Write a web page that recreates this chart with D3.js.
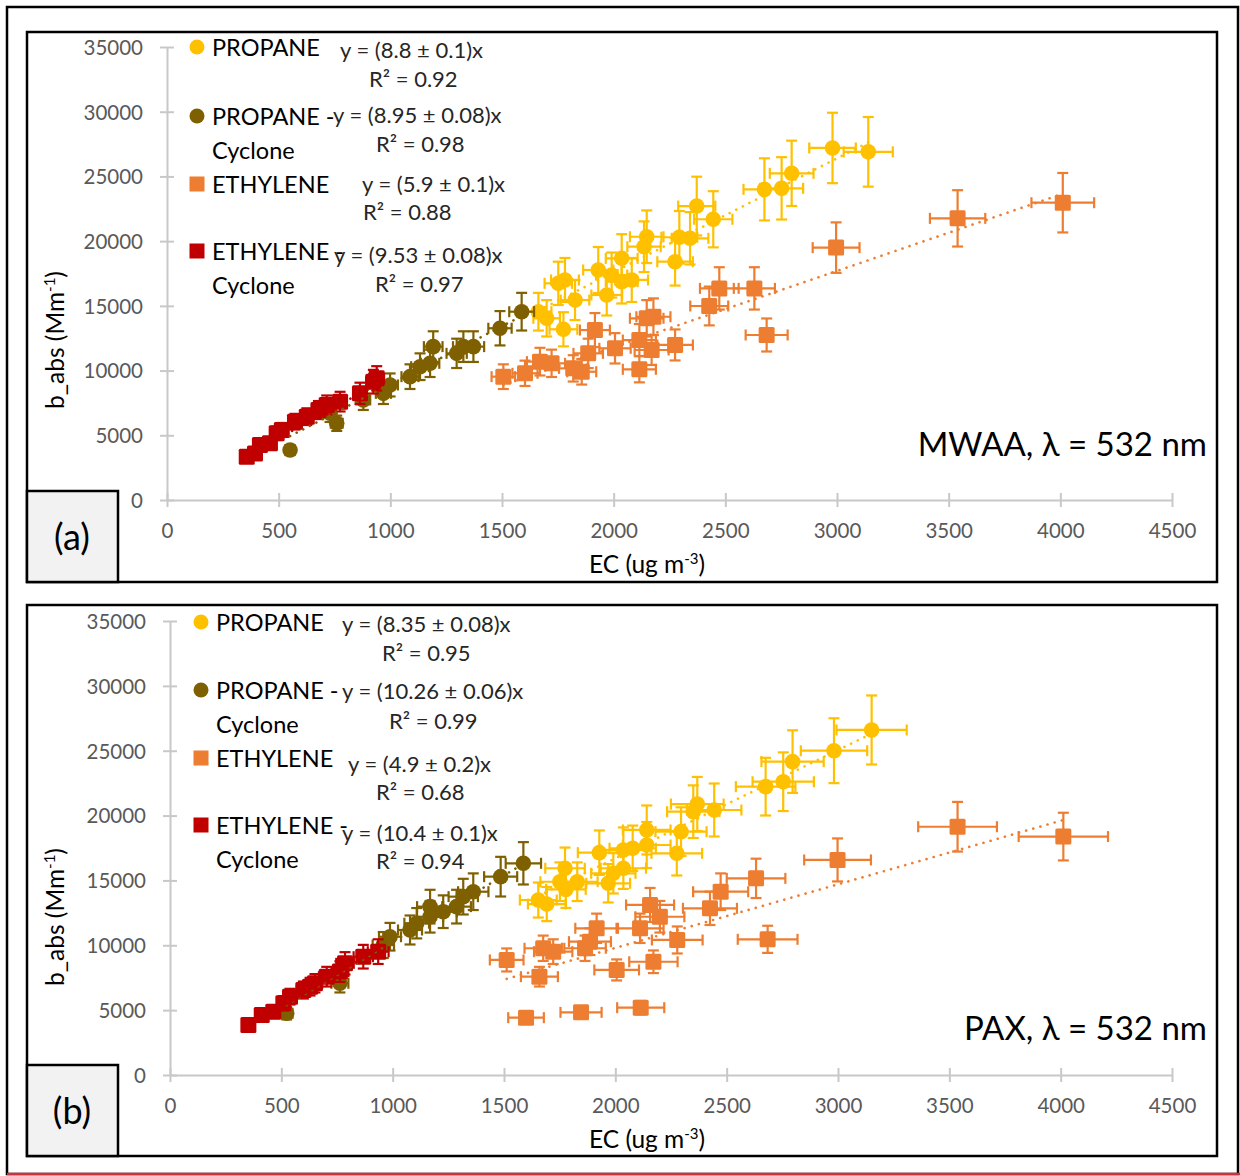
<!DOCTYPE html>
<html>
<head>
<meta charset="utf-8">
<script src="https://cdn.jsdelivr.net/npm/d3@7"></script>
<style>
  body { margin: 0; background: #fff; }
  text { font-family: Lato, "Liberation Sans", sans-serif; }
</style>
</head>
<body>
<svg id="chart_svg" width="1240" height="1176"></svg>
<script>
'use strict';

// ---- data: [EC, b_abs] ----
const seriesNames = ["PROPANE", "PROPANE - Cyclone", "ETHYLENE", "ETHYLENE - Cyclone"];
const xTicks = [0, 500, 1000, 1500, 2000, 2500, 3000, 3500, 4000, 4500];
const yTicks = [0, 5000, 10000, 15000, 20000, 25000, 30000, 35000];

// panel (a) MWAA
const propaneA = [[2980,27200],[3140,26900],[2797,25240],[2752,24080],[2675,24000],[2446,21690],[2372,22710],
  [2342,20220],[2294,20300],[2275,18410],[2148,20340],[2136,19570],[2081,17000],[2036,18670],[2036,16870],
  [1991,17380],[1969,15840],[1931,17770],[1827,15450],[1782,17000],[1752,16740],[1775,13190],[1700,14040],[1663,14550]];
const propaneCycA = [[1588,14550],[1491,13270],[1372,11850],[1327,11850],[1297,11330],[1192,11850],[1178,10560],
  [1133,10300],[1088,9530],[999,8890],[969,8240],[879,7730],[760,5930],[730,6700],[551,3860]];
const ethyleneA = [[4011,22970],[3540,21760],[2996,19500],[2630,16350],[2473,16350],[2428,14990],[2685,12750],
  [2178,14160],[2148,14040],[2275,11980],[2170,11590],[2115,12360],[2115,10100],[2006,11720],[1916,13130],
  [1886,11330],[1857,9910],[1819,10170],[1722,10560],[1670,10690],[1603,9790],[1506,9530]];
const ethyleneCycA = [[357,3350],[394,3600],[416,4250],[461,4380],[491,5150],[514,5410],[573,6050],[626,6440],
  [678,6950],[715,7340],[775,7600],[864,8240],[924,9140],[939,9400]];

// panel (b) PAX
const propaneB = [[3151,26600],[2982,25000],[2796,24160],[2754,22610],[2675,22230],[2444,20430],[2368,20890],
  [2350,20300],[2295,18760],[2276,17090],[2141,18890],[2141,17730],[2078,17480],[2036,17350],[2036,15940],
  [1991,15550],[1968,14780],[1928,17140],[1829,14900],[1774,15940],[1751,14900],[1778,14310],[1692,13180],[1654,13490]];
const propaneCycB = [[1587,16320],[1485,15290],[1362,14130],[1317,13750],[1287,12980],[1227,12590],[1168,12980],
  [1168,12200],[1108,11700],[1078,11180],[988,10660],[958,10020],[763,7070],[524,4760]];
const ethyleneB = [[4012,18380],[3537,19140],[2998,16580],[2632,15160],[2473,14130],[2425,12850],[2684,10460],
  [2156,13110],[2200,12200],[2111,11310],[2278,10410],[2171,8730],[2006,8100],[1916,11310],[1886,10280],
  [1864,9770],[1721,9510],[1676,9770],[1512,8870],[1659,7580],[1599,4420],[1846,4830],[2114,5190]];
const ethyleneCycB = [[352,3850],[412,4630],[464,4880],[509,5530],[539,6040],[599,6550],[629,6810],[651,7070],
  [704,7580],[763,7970],[786,8610],[868,9120],[935,9510]];

// fitted slopes (forced through zero) and labels
const slopesA = [8.8, 8.95, 5.9, 9.53];
const eqA = ["y = (8.8 ± 0.1)x", "y = (8.95 ± 0.08)x", "y = (5.9 ± 0.1)x", "y = (9.53 ± 0.08)x"];
const r2A = ["R² = 0.92", "R² = 0.98", "R² = 0.88", "R² = 0.97"];
const slopesB = [8.35, 10.26, 4.9, 10.4];
const eqB = ["y = (8.35 ± 0.08)x", "y = (10.26 ± 0.06)x", "y = (4.9 ± 0.2)x", "y = (10.4 ± 0.1)x"];
const r2B = ["R² = 0.95", "R² = 0.99", "R² = 0.68", "R² = 0.94"];

// relative error bars
const errA = {x: 0.035, y: 0.10};
const errB = {x: 0.05, y: 0.10};

const colors = ["#ffc000", "#7f6000", "#ed7d31", "#c00000"];
const shapes = ["circle", "circle", "square", "square"];

const svg = d3.select("#chart_svg");

// outer frame
svg.append("rect").attr("x", 7).attr("y", 7).attr("width", 1231).attr("height", 1167)
  .attr("fill", "none").attr("stroke", "#000").attr("stroke-width", 2.5);
svg.append("line").attr("x1", 7).attr("x2", 1240).attr("y1", 1174).attr("y2", 1174)
  .attr("stroke", "#c9343c").attr("stroke-width", 2.5);

const drawPanel = (p) => {
  const g = svg.append("g");

  g.append("rect").attr("x", 27).attr("y", p.top).attr("width", 1190).attr("height", p.bottom - p.top)
    .attr("fill", "#fff").attr("stroke", "#000").attr("stroke-width", 2.5);

  const x = d3.scaleLinear().domain([0, 4500]).range([p.x0, 1172]),
        y = d3.scaleLinear().domain([0, 35000]).range([p.y0, p.y1]);

  // axes
  const xAxis = g.append("g").attr("transform", "translate(0," + p.y0 + ")")
    .call(d3.axisBottom(x).tickValues(xTicks).tickSize(0).tickPadding(23).tickFormat(d3.format("d")));
  const yAxis = g.append("g").attr("transform", "translate(" + p.x0 + ",0)")
    .call(d3.axisLeft(y).tickValues(yTicks).tickSize(0).tickPadding(24).tickFormat(d3.format("d")));
  [xAxis, yAxis].forEach((a) => {
    a.select(".domain").attr("stroke", "#c8c8c8").attr("stroke-width", 2);
    a.selectAll("text").attr("fill", "#595959").style("font-size", "20.5px").style("font-family", "Lato, sans-serif");
  });
  xAxis.selectAll(".tick").append("line").attr("y1", -7).attr("y2", 7).attr("stroke", "#c8c8c8").attr("stroke-width", 2);
  yAxis.selectAll(".tick").append("line").attr("x1", -7).attr("x2", 7).attr("stroke", "#c8c8c8").attr("stroke-width", 2);
  yAxis.selectAll("text").attr("dy", "0.36em");

  // axis titles
  const yt = g.append("text")
    .attr("transform", "translate(" + 64 + "," + p.ytY + ") rotate(-90)")
    .attr("text-anchor", "middle").attr("fill", "#000").style("font-size", "24.5px");
  yt.append("tspan").text("b_abs (Mm");
  yt.append("tspan").attr("baseline-shift", "super").style("font-size", "15px").text("-1");
  yt.append("tspan").text(")");
  const xt = g.append("text").attr("x", 647).attr("y", p.y0 + 73)
    .attr("text-anchor", "middle").attr("fill", "#000").style("font-size", "24.5px");
  xt.append("tspan").text("EC (ug m");
  xt.append("tspan").attr("baseline-shift", "super").style("font-size", "15px").text("-3");
  xt.append("tspan").text(")");

  // series: error bars then markers
  p.series.forEach((data, i) => {
    const s = g.append("g").attr("class", "series").attr("stroke", colors[i]).attr("fill", colors[i]);
    const pt = s.selectAll(".pt").data(data).enter().append("g").attr("class", "pt");
    const cap = 5.5;
    pt.append("line")
      .attr("x1", (d) => x(d[0])).attr("x2", (d) => x(d[0]))
      .attr("y1", (d) => y(d[1] * (1 + p.err.y))).attr("y2", (d) => y(d[1] * (1 - p.err.y)))
      .attr("stroke-width", 2.2);
    pt.append("line")
      .attr("x1", (d) => x(d[0] * (1 - p.err.x))).attr("x2", (d) => x(d[0] * (1 + p.err.x)))
      .attr("y1", (d) => y(d[1])).attr("y2", (d) => y(d[1]))
      .attr("stroke-width", 2.2);
    [1 + p.err.y, 1 - p.err.y].forEach((f) => {
      pt.append("line")
        .attr("x1", (d) => x(d[0]) - cap).attr("x2", (d) => x(d[0]) + cap)
        .attr("y1", (d) => y(d[1] * f)).attr("y2", (d) => y(d[1] * f)).attr("stroke-width", 2.2);
    });
    [1 + p.err.x, 1 - p.err.x].forEach((f) => {
      pt.append("line")
        .attr("x1", (d) => x(d[0] * f)).attr("x2", (d) => x(d[0] * f))
        .attr("y1", (d) => y(d[1]) - cap).attr("y2", (d) => y(d[1]) + cap).attr("stroke-width", 2.2);
    });
    if (shapes[i] === "circle") {
      pt.append("circle").attr("cx", (d) => x(d[0])).attr("cy", (d) => y(d[1])).attr("r", 7.8).attr("stroke", "none");
    } else {
      pt.append("rect").attr("x", (d) => x(d[0]) - 8).attr("y", (d) => y(d[1]) - 8)
        .attr("width", 16).attr("height", 16).attr("rx", 1.5).attr("stroke", "none");
    }
  });

  // dotted trendlines through zero, over the data range
  p.series.forEach((data, i) => {
    const ext = d3.extent(data, (d) => d[0]);
    g.append("line")
      .attr("x1", x(ext[0])).attr("y1", y(ext[0] * p.slopes[i]))
      .attr("x2", x(ext[1])).attr("y2", y(ext[1] * p.slopes[i]))
      .attr("stroke", colors[i]).attr("stroke-width", 2.6)
      .attr("stroke-linecap", "round").attr("stroke-dasharray", "0.1,7.3");
  });

  // legend
  const lg = g.append("g");
  p.legend.forEach((row, i) => {
    if (shapes[i] === "circle") {
      lg.append("circle").attr("cx", p.lx).attr("cy", row.my).attr("r", 7.5).attr("fill", colors[i]);
    } else {
      lg.append("rect").attr("x", p.lx - 7.5).attr("y", row.my - 7.5).attr("width", 15).attr("height", 15).attr("fill", colors[i]);
    }
    row.name.forEach((t, k) => {
      lg.append("text").attr("x", p.lx + 15).attr("y", row.my + 9 + k * 34)
        .attr("fill", "#000").style("font-size", "23.5px").text(t);
    });
    lg.append("text").attr("x", row.ex).attr("y", row.ey).attr("fill", "#262626")
      .style("font-size", "22px").text(p.eq[i]);
    lg.append("text").attr("x", row.rx).attr("y", row.ry).attr("fill", "#262626")
      .style("font-size", "22px").text(p.r2[i]);
  });

  // panel letter box
  g.append("rect").attr("x", 27).attr("y", p.bottom - 91).attr("width", 91).attr("height", 91)
    .attr("fill", "#f2f2f2").attr("stroke", "#000").attr("stroke-width", 2.5);
  g.append("text").attr("x", 72).attr("y", p.bottom - 32).attr("text-anchor", "middle")
    .attr("fill", "#000").style("font-size", "36px").text(p.letter);

  // instrument label
  g.append("text").attr("x", 1207).attr("y", p.titleY).attr("text-anchor", "end")
    .attr("fill", "#000").style("font-size", "33px").text(p.title);
};

drawPanel({
  top: 32, bottom: 582, x0: 167, y0: 500, y1: 47, ytY: 340,
  series: [propaneA, propaneCycA, ethyleneA, ethyleneCycA],
  slopes: slopesA, eq: eqA, r2: r2A, err: errA,
  letter: "(a)", title: "MWAA, λ = 532 nm", titleY: 456, lx: 197,
  legend: [
    {my: 47, name: ["PROPANE"], ex: 340, ey: 58, rx: 369, ry: 87},
    {my: 116, name: ["PROPANE -", "Cyclone"], ex: 333, ey: 123, rx: 376, ry: 152},
    {my: 184, name: ["ETHYLENE"], ex: 362, ey: 192, rx: 363, ry: 220},
    {my: 251, name: ["ETHYLENE -", "Cyclone"], ex: 334, ey: 263, rx: 375, ry: 292}
  ]
});

drawPanel({
  top: 605, bottom: 1156, x0: 170, y0: 1075, y1: 621, ytY: 917,
  series: [propaneB, propaneCycB, ethyleneB, ethyleneCycB],
  slopes: slopesB, eq: eqB, r2: r2B, err: errB,
  letter: "(b)", title: "PAX, λ = 532 nm", titleY: 1040, lx: 201,
  legend: [
    {my: 622, name: ["PROPANE"], ex: 342, ey: 632, rx: 382, ry: 661},
    {my: 690, name: ["PROPANE -", "Cyclone"], ex: 342, ey: 699, rx: 389, ry: 729},
    {my: 758, name: ["ETHYLENE"], ex: 348, ey: 772, rx: 376, ry: 800},
    {my: 825, name: ["ETHYLENE -", "Cyclone"], ex: 342, ey: 841, rx: 376, ry: 869}
  ]
});
</script>
</body>
</html>
